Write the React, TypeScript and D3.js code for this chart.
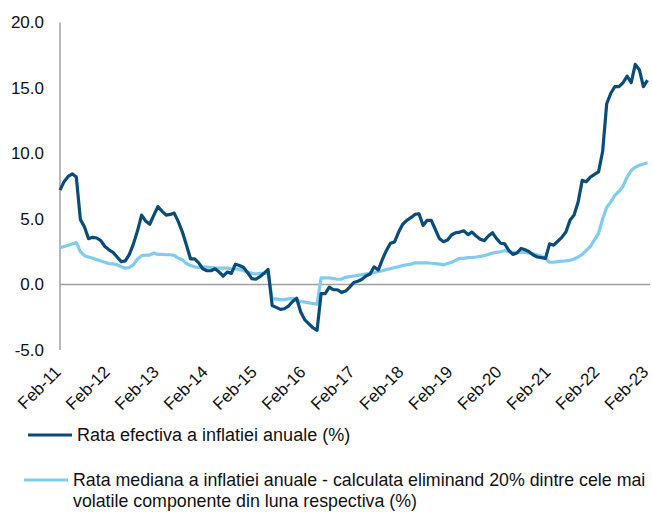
import React from "react";
import { scaleLinear, line } from "d3";

// monthly values, Feb-11 .. Feb-23 (145 points)
const efectiva = [
  7.2, 7.85, 8.25, 8.45, 8.2, 4.95, 4.4, 3.5, 3.6, 3.55, 3.35, 2.9,
  2.65, 2.45, 2.1, 1.75, 1.8, 2.3, 3.1, 4.1, 5.3, 4.85, 4.6, 5.3,
  5.95, 5.6, 5.3, 5.35, 5.45, 4.8, 4.0, 3.0, 1.95, 1.95, 1.65, 1.2,
  1.05, 1.05, 1.2, 0.95, 0.65, 0.95, 0.85, 1.55, 1.45, 1.3, 0.9, 0.45,
  0.4, 0.6, 0.85, 1.15, -1.6, -1.75, -1.9, -1.85, -1.65, -1.3, -1.05, -2.1,
  -2.7, -3.0, -3.3, -3.5, -0.7, -0.7, -0.2, -0.4, -0.4, -0.6, -0.5, -0.2,
  0.15, 0.25, 0.4, 0.65, 0.8, 1.35, 1.1, 1.9, 2.6, 3.15, 3.25, 4.0,
  4.6, 4.9, 5.1, 5.35, 5.4, 4.5, 4.9, 4.9, 4.2, 3.5, 3.27, 3.4,
  3.8, 3.95, 4.0, 4.1, 3.8, 4.0, 3.7, 3.45, 3.35, 3.7, 3.95, 3.5,
  3.15, 3.1, 2.6, 2.3, 2.4, 2.75, 2.65, 2.5, 2.25, 2.1, 2.05, 2.0,
  3.1, 3.0, 3.3, 3.6, 4.0, 4.9, 5.3, 6.3, 7.95, 7.85, 8.2, 8.4,
  8.6, 10.15, 13.8, 14.6, 15.1, 15.1, 15.4, 15.9, 15.4, 16.8, 16.4, 15.1,
  15.6,
];

const mediana = [
  2.8, 2.9, 3.0, 3.1, 3.2, 2.5, 2.2, 2.1, 2.0, 1.9, 1.8, 1.7,
  1.6, 1.58, 1.5, 1.35, 1.25, 1.3, 1.5, 1.95, 2.2, 2.25, 2.25, 2.4,
  2.3, 2.3, 2.27, 2.27, 2.22, 2.0, 1.9, 1.6, 1.45, 1.35, 1.3, 1.32,
  1.33, 1.3, 1.27, 1.25, 1.25, 1.25, 1.2, 1.2, 1.15, 1.05, 0.95, 0.85,
  0.8, 0.85, 0.85, 0.9, -1.1, -1.1, -1.15, -1.15, -1.1, -1.05, -1.2, -1.3,
  -1.35, -1.4, -1.45, -1.5, 0.5, 0.5, 0.5, 0.45, 0.4, 0.4, 0.55, 0.6,
  0.65, 0.7, 0.75, 0.8, 0.85, 0.9, 1.0, 1.05, 1.15, 1.2, 1.3, 1.36,
  1.45, 1.5, 1.55, 1.65, 1.65, 1.65, 1.65, 1.62, 1.6, 1.55, 1.5, 1.6,
  1.7, 1.85, 2.0, 2.0, 2.05, 2.07, 2.1, 2.15, 2.2, 2.3, 2.4, 2.45,
  2.5, 2.6, 2.5, 2.45, 2.45, 2.45, 2.45, 2.4, 2.35, 2.25, 2.15, 2.0,
  1.7, 1.7, 1.75, 1.78, 1.8, 1.85, 1.95, 2.1, 2.3, 2.6, 2.9, 3.4,
  3.9, 5.0, 5.9, 6.3, 6.8, 7.1, 7.5, 8.2, 8.7, 8.95, 9.1, 9.2,
  9.3,
];

const tickLabels = [
  "Feb-11", "Feb-12", "Feb-13", "Feb-14", "Feb-15", "Feb-16", "Feb-17",
  "Feb-18", "Feb-19", "Feb-20", "Feb-21", "Feb-22", "Feb-23",
];
const yTicks = [-5, 0, 5, 10, 15, 20];

const legend1 = "Rata efectiva a inflatiei anuale (%)";
const legend2 = [
  "Rata mediana a inflatiei anuale - calculata eliminand 20% dintre cele mai",
  "volatile componente din luna respectiva (%)",
];

const DARK = "#0a4c79";
const LIGHT = "#80ccf0";
const AXIS = "#a0a0a0";
const FONT = "'Liberation Sans', Arial, sans-serif";

export default function App() {
  const width = 652;
  const height = 515;

  const x = scaleLinear().domain([0, efectiva.length - 1]).range([60, 647.5]);
  const y = scaleLinear().domain([-5, 20]).range([350, 22.5]);

  const path = line<number>()
    .x((_, i) => x(i))
    .y(d => y(d));

  return (
    <svg
      width={width}
      height={height}
      style={{ position: "absolute", left: 0, top: 0 }}
      fontFamily={FONT}
    >
      {/* y axis */}
      <line x1={60} x2={60} y1={y(20)} y2={y(-5)} stroke={AXIS} strokeWidth={1.5} />
      {/* zero line */}
      <line x1={60} x2={650} y1={y(0)} y2={y(0)} stroke={AXIS} strokeWidth={1.5} />

      {yTicks.map(t => (
        <text key={t} x={44} y={y(t)} dy="0.35em" textAnchor="end" fontSize={17} fill="#111">
          {t.toFixed(1)}
        </text>
      ))}

      {tickLabels.map((lab, i) => {
        const tx = x(i * 12) + 2;
        const ty = 373;
        return (
          <text
            key={lab}
            transform={`translate(${tx},${ty}) rotate(-45)`}
            textAnchor="end"
            fontSize={17}
            fill="#111"
          >
            {lab}
          </text>
        );
      })}

      <path d={path(mediana) ?? ""} fill="none" stroke={LIGHT} strokeWidth={3.2} strokeLinejoin="round" />
      <path d={path(efectiva) ?? ""} fill="none" stroke={DARK} strokeWidth={3.2} strokeLinejoin="round" />

      {/* legend */}
      <line x1={28} x2={72} y1={435} y2={435} stroke={DARK} strokeWidth={3.2} />
      <text x={77} y={435} dy="0.35em" fontSize={18} fill="#111">{legend1}</text>

      <line x1={24} x2={68} y1={480} y2={480} stroke={LIGHT} strokeWidth={3.2} />
      {legend2.map((t, i) => (
        <text key={i} x={73} y={480 + i * 21} dy="0.35em" fontSize={17.8} fill="#111">{t}</text>
      ))}
    </svg>
  );
}
